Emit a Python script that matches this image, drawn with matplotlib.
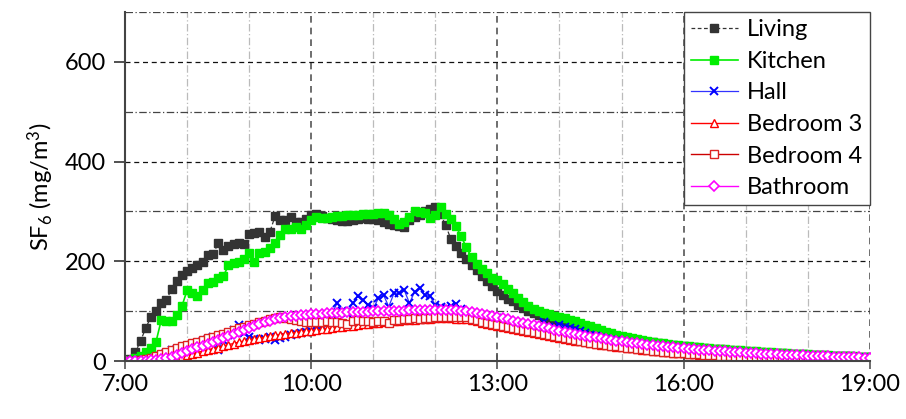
import numpy as np
import matplotlib
matplotlib.use("Agg")
import matplotlib.pyplot as plt
from matplotlib.ticker import MultipleLocator, FixedLocator

plt.rcParams['font.family'] = ['Lato', 'DejaVu Sans']
plt.rcParams['mathtext.fontset'] = 'custom'
plt.rcParams['mathtext.rm'] = 'Lato'
plt.rcParams['mathtext.it'] = 'Lato:italic'

# time axis: 5 minute readings from 7:00 to 19:00 (hours)
hours = np.arange(7 * 12, 19 * 12 + 1) / 12.0

tick_hours = [7, 10, 13, 16, 19]
tick_labels = ["7:00", "10:00", "13:00", "16:00", "19:00"]

# SF6 concentration (mg/m3), one row per hour
living = [
    0, 5, 18, 40, 66, 88, 100, 116, 122, 145, 160, 172,
    181, 187, 192, 198, 212, 214, 236, 222, 230, 234, 236, 234,
    255, 256, 258, 249, 259, 290, 282, 282, 289, 279, 279, 284,
    292, 294, 290, 286, 284, 282, 280, 281, 282, 284, 286, 285,
    284, 282, 278, 274, 272, 270, 268, 282, 289, 292, 300, 306,
    309, 295, 272, 245, 230, 216, 204, 192, 182, 170, 160, 150,
    140, 132, 125, 120, 112, 106, 100, 96, 92, 88, 84, 80,
    77, 74, 70, 67, 64, 62, 59, 57, 55, 53, 51, 49,
    48, 46, 44, 42, 41, 39, 38, 36, 35, 33, 32, 31,
    30, 29, 28, 27, 26, 25, 24, 24, 23, 22, 21, 21,
    20, 19, 19, 18, 17, 17, 16, 16, 15, 15, 14, 14,
    13, 13, 12, 12, 11, 11, 10, 10, 10, 9, 9, 9,
    8]

kitchen = [
    0, 3, 6, 11, 18, 26, 39, 82, 80, 81, 92, 110,
    142, 136, 130, 142, 156, 159, 166, 170, 192, 196, 199, 204,
    216, 199, 216, 219, 226, 236, 252, 264, 264, 269, 264, 272,
    282, 289, 286, 287, 288, 290, 291, 292, 292, 293, 294, 294,
    295, 297, 296, 292, 284, 274, 279, 288, 302, 298, 297, 286,
    292, 309, 295, 285, 270, 250, 228, 208, 194, 184, 176, 166,
    162, 155, 145, 136, 126, 118, 110, 105, 101, 97, 94, 91,
    88, 86, 83, 80, 76, 73, 70, 66, 62, 59, 56, 53,
    50, 48, 46, 44, 42, 40, 39, 37, 36, 34, 33, 32,
    31, 30, 29, 28, 27, 26, 25, 25, 24, 23, 22, 22,
    21, 20, 20, 19, 18, 18, 17, 16, 16, 15, 15, 14,
    14, 13, 13, 12, 12, 11, 11, 11, 10, 10, 9, 9,
    9]

hall = [
    0, 0, 1, 2, 3, 5, 8, 12, 16, 22, 24, 27,
    30, 33, 36, 40, 44, 49, 22, 42, 52, 62, 72, 56,
    48, 44, 42, 45, 48, 42, 46, 48, 52, 54, 56, 58,
    60, 64, 70, 80, 95, 116, 100, 96, 116, 130, 122, 112,
    106, 126, 132, 109, 136, 136, 142, 116, 139, 146, 132, 130,
    112, 108, 106, 110, 114, 104, 84, 90, 92, 86, 76, 84,
    86, 82, 79, 76, 73, 70, 66, 59, 64, 79, 68, 66,
    72, 68, 66, 64, 60, 56, 53, 50, 47, 45, 43, 41,
    39, 37, 35, 34, 32, 31, 29, 28, 27, 26, 25, 24,
    23, 22, 21, 20, 20, 19, 18, 17, 17, 16, 15, 15,
    14, 14, 13, 13, 12, 12, 11, 11, 11, 10, 10, 9,
    9, 9, 8, 8, 8, 7, 7, 7, 7, 6, 6, 6,
    6]

bedroom3 = [
    0, 0, 0, 1, 1, 2, 3, 4, 5, 7, 9, 11,
    13, 15, 17, 20, 22, 25, 27, 30, 33, 35, 38, 40,
    42, 44, 46, 48, 50, 52, 53, 55, 56, 57, 59, 60,
    61, 62, 64, 65, 66, 68, 69, 70, 71, 73, 74, 75,
    76, 77, 78, 79, 80, 81, 82, 83, 83, 84, 85, 85,
    86, 86, 86, 86, 85, 85, 84, 82, 80, 77, 75, 73,
    71, 69, 67, 65, 63, 61, 59, 57, 55, 53, 51, 49,
    47, 45, 43, 41, 40, 38, 36, 35, 33, 32, 31, 29,
    28, 27, 26, 24, 23, 22, 21, 20, 19, 18, 17, 16,
    16, 15, 14, 13, 13, 12, 11, 11, 10, 10, 9, 9,
    8, 8, 7, 7, 7, 6, 6, 6, 5, 5, 5, 4,
    4, 4, 3, 3, 3, 3, 2, 2, 2, 2, 2, 1,
    1]

bedroom4 = [
    0, 0, 1, 2, 4, 7, 11, 15, 19, 23, 26, 30,
    33, 36, 39, 43, 46, 49, 52, 55, 59, 62, 66, 69,
    72, 75, 78, 81, 84, 87, 88, 86, 84, 82, 80, 79,
    79, 78, 79, 80, 79, 78, 77, 74, 80, 82, 81, 80,
    79, 80, 80, 76, 82, 83, 84, 85, 86, 85, 86, 87,
    88, 89, 89, 88, 88, 88, 88, 85, 82, 79, 76, 74,
    72, 70, 68, 66, 64, 62, 60, 58, 56, 54, 52, 50,
    48, 46, 44, 42, 40, 39, 37, 35, 34, 32, 31, 30,
    29, 27, 26, 25, 24, 23, 21, 20, 19, 18, 17, 17,
    16, 15, 14, 14, 13, 12, 12, 11, 10, 10, 9, 9,
    8, 8, 7, 7, 6, 6, 6, 5, 5, 5, 4, 4,
    3, 3, 3, 2, 2, 2, 2, 1, 1, 1, 1, 1,
    0]

bathroom = [
    0, 0, 0, 1, 1, 2, 3, 4, 6, 9, 12, 16,
    20, 24, 28, 31, 35, 39, 43, 47, 51, 55, 59, 63,
    66, 70, 74, 78, 81, 84, 86, 88, 90, 91, 92, 93,
    94, 95, 95, 96, 96, 97, 97, 98, 98, 99, 99, 99,
    100, 100, 100, 101, 101, 101, 101, 102, 102, 102, 102, 102,
    103, 103, 103, 102, 102, 101, 100, 99, 97, 95, 93, 91,
    89, 86, 84, 81, 79, 77, 74, 72, 70, 68, 66, 63,
    61, 59, 57, 55, 53, 51, 49, 48, 46, 44, 43, 41,
    40, 38, 37, 36, 34, 33, 32, 31, 30, 29, 28, 27,
    26, 25, 24, 23, 23, 22, 21, 20, 20, 19, 18, 18,
    17, 17, 16, 15, 15, 14, 14, 13, 13, 12, 12, 12,
    11, 11, 10, 10, 10, 9, 9, 9, 8, 8, 8, 7,
    7]

fig = plt.figure(figsize=(9.06, 4.19), dpi=100)
ax = fig.add_axes([0.138, 0.1384, 0.822, 0.8326])

ax.plot(hours, living, color='#333333', ls=(0, (3, 2)), lw=0.9,
        marker='s', ms=6, mec='#333333', mfc='#333333', label='Living')
ax.plot(hours, kitchen, color='#00ee00', ls='-', lw=1.2,
        marker='s', ms=6, mec='#00ee00', mfc='#00ee00', label='Kitchen')
ax.plot(hours, hall, color='#3333ff', ls='-', lw=0.9,
        marker='x', ms=6, mew=1.4, mec='#0000ff', label='Hall')
ax.plot(hours, bedroom3, color='#ff0000', ls='-', lw=1.0,
        marker='^', ms=6, mew=1.0, mec='#ff0000', mfc='white', label='Bedroom 3')
ax.plot(hours, bedroom4, color='#cc0000', ls='-', lw=1.0,
        marker='s', ms=6, mew=1.0, mec='#dd2222', mfc='white', label='Bedroom 4')
ax.plot(hours, bathroom, color='#ff00ff', ls='-', lw=1.0,
        marker='D', ms=5, mew=1.2, mec='#ff00ff', mfc='white', label='Bathroom')

ax.set_xlim(7, 19)
ax.set_ylim(0, 700)

ax.xaxis.set_major_locator(FixedLocator(tick_hours))
ax.set_xticklabels(tick_labels)
ax.xaxis.set_minor_locator(MultipleLocator(1))
ax.yaxis.set_major_locator(FixedLocator([0, 200, 400, 600]))
ax.yaxis.set_minor_locator(FixedLocator([100, 300, 500, 700]))

# gridlines in the Excel style
ax.grid(which='major', axis='y', color='#111111', ls=(0, (4, 3)), lw=0.9)
ax.grid(which='minor', axis='y', color='#444444', ls=(0, (6, 2, 1, 2)), lw=0.9)
ax.grid(which='major', axis='x', color='#555555', ls=(0, (4, 3)), lw=1.2)
ax.grid(which='minor', axis='x', color='#bbbbbb', ls=(0, (6, 2, 1, 2)), lw=0.9)
ax.set_axisbelow(True)

for side in ['top', 'right']:
    ax.spines[side].set_visible(False)
for side in ['left', 'bottom']:
    ax.spines[side].set_color('#444444')
    ax.spines[side].set_linewidth(1.5)

ax.tick_params(axis='y', which='major', direction='out', length=8, width=1.2,
               color='#333333', labelsize=17, pad=6)
ax.tick_params(axis='x', which='major', direction='inout', length=12, width=1.2,
               color='#555555', labelsize=17, pad=3)
ax.tick_params(which='minor', length=0)

ax.set_ylabel('SF$_6$ (mg/m$^3$)', fontsize=17, labelpad=6)

leg = ax.legend(loc='upper right', fontsize=17, frameon=True, fancybox=False,
                edgecolor='#444444', framealpha=1, borderaxespad=0.0,
                handlelength=2.0, handletextpad=0.4, labelspacing=0.45,
                borderpad=0.3)
leg.get_frame().set_linewidth(1.0)

fig.savefig("out.png", dpi=100)
